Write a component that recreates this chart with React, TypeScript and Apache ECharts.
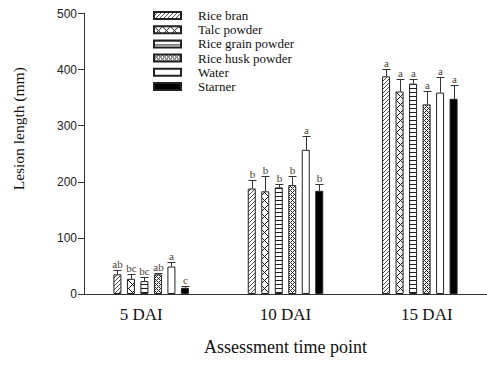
import React, { useEffect, useRef } from 'react';
import * as echarts from 'echarts';

// ---- data ----
const categories = ['5 DAI', '10 DAI', '15 DAI'];
const treatments = ['Rice bran', 'Talc powder', 'Rice grain powder', 'Rice husk powder', 'Water', 'Starner'];

const riceBran = [35, 188, 388];
const talcPowder = [27, 183, 361];
const riceGrainPowder = [23, 190, 375];
const riceHuskPowder = [35, 194, 338];
const water = [49, 257, 359];
const starner = [11, 184, 348];

const riceBranErr = [8, 16, 13];
const talcPowderErr = [8, 28, 22];
const riceGrainPowderErr = [7, 6, 8];
const riceHuskPowderErr = [2, 17, 23];
const waterErr = [8, 25, 28];
const starnerErr = [4, 12, 24];

const riceBranLetters = ['ab', 'b', 'a'];
const talcPowderLetters = ['bc', 'b', 'a'];
const riceGrainPowderLetters = ['bc', 'b', 'a'];
const riceHuskPowderLetters = ['ab', 'b', 'a'];
const waterLetters = ['a', 'a', 'a'];
const starnerLetters = ['c', 'b', 'a'];

const yTicks = [0, 100, 200, 300, 400, 500];

const means = [riceBran, talcPowder, riceGrainPowder, riceHuskPowder, water, starner];
const errs = [riceBranErr, talcPowderErr, riceGrainPowderErr, riceHuskPowderErr, waterErr, starnerErr];
const letters = [riceBranLetters, talcPowderLetters, riceGrainPowderLetters, riceHuskPowderLetters, waterLetters, starnerLetters];

const SERIF = "'Times New Roman', 'Liberation Serif', serif";
const SANS = "Arial, 'Liberation Sans', sans-serif";
const BAR_W = 8;
const BAR_GAP = 5.5;

function makeTile(w: number, h: number, fg: number[], test: (x: number, y: number) => boolean): HTMLCanvasElement {
  const c = document.createElement('canvas');
  c.width = w;
  c.height = h;
  const ctx = c.getContext('2d')!;
  const img = ctx.createImageData(w, h);
  for (let y = 0; y < h; y++) {
    for (let x = 0; x < w; x++) {
      const i = (y * w + x) * 4;
      const on = test(x, y);
      img.data[i] = on ? fg[0] : 255;
      img.data[i + 1] = on ? fg[1] : 255;
      img.data[i + 2] = on ? fg[2] : 255;
      img.data[i + 3] = 255;
    }
  }
  ctx.putImageData(img, 0, 0);
  return c;
}

export default function App() {
  const ref = useRef<HTMLDivElement>(null);

  useEffect(() => {
    if (!ref.current) return;
    const chart = echarts.init(ref.current, undefined, { renderer: 'svg' });

    const fills: any[] = [
      { image: makeTile(4, 4, [80, 80, 80], (x, y) => (x + y) % 4 === 3), repeat: 'repeat' },
      { image: makeTile(8, 8, [20, 20, 20], (x, y) => (x + y) % 8 === 0 || (x - y + 8) % 8 === 0), repeat: 'repeat' },
      { image: makeTile(4, 4, [30, 30, 30], (x, y) => y === 0), repeat: 'repeat' },
      { image: makeTile(4, 4, [40, 40, 40], (x, y) => (x + y) % 4 === 0 || (x - y + 4) % 4 === 0), repeat: 'repeat' },
      '#ffffff',
      '#000000',
    ];

    const barSeries = treatments.map((name, s) => ({
      name,
      type: 'bar',
      data: means[s],
      barWidth: BAR_W,
      barGap: (BAR_GAP / BAR_W) * 100 + '%',
      itemStyle: { color: fills[s], borderColor: '#222', borderWidth: 1 },
      z: 2,
    }));

    const errData: number[][] = [];
    treatments.forEach((_, s) => {
      categories.forEach((__, c) => {
        errData.push([c, s, means[s][c], means[s][c] + errs[s][c]]);
      });
    });

    const n = treatments.length;
    const step = BAR_W + BAR_GAP;

    const option: any = {
      animation: false,
      backgroundColor: '#ffffff',
      grid: { left: 84, top: 13.5, width: 405, height: 280.5, containLabel: false },
      legend: {
        data: treatments,
        orient: 'vertical',
        left: 148,
        top: 4,
        icon: 'rect',
        itemWidth: 27,
        itemHeight: 7,
        itemGap: 1.2,
        textStyle: { fontFamily: SERIF, fontSize: 13, color: '#111', padding: [0, 0, 0, 12] },
      },
      xAxis: {
        type: 'category',
        data: [
          { value: categories[0], textStyle: { padding: [0, 20, 0, 0] } },
          { value: categories[1] },
          { value: categories[2], textStyle: { padding: [0, 0, 0, 14] } },
        ],
        axisTick: { show: false },
        axisLine: { lineStyle: { color: '#333', width: 1 } },
        axisLabel: { fontFamily: SERIF, fontSize: 17, color: '#111', margin: 12 },
        name: 'Assessment time point',
        nameLocation: 'middle',
        nameGap: 44,
        nameTextStyle: { fontFamily: SERIF, fontSize: 18, color: '#111' },
      },
      yAxis: {
        type: 'value',
        min: yTicks[0],
        max: yTicks[yTicks.length - 1],
        interval: yTicks[1] - yTicks[0],
        axisLine: { show: true, lineStyle: { color: '#333', width: 1 } },
        axisTick: { show: true, inside: false, length: 6, lineStyle: { color: '#333' } },
        splitLine: { show: false },
        axisLabel: { fontFamily: SANS, fontSize: 12, color: '#222', margin: 7 },
        name: 'Lesion length (mm)',
        nameLocation: 'middle',
        nameGap: 58,
        nameTextStyle: { fontFamily: SERIF, fontSize: 15.5, color: '#111', padding: [0, 0, 0, 50] },
      },
      series: [
        ...barSeries,
        {
          type: 'custom',
          name: 'errors',
          data: errData,
          encode: { x: 0, y: 3 },
          z: 5,
          clip: false,
          renderItem: (params: any, api: any) => {
            const c = api.value(0) as number;
            const s = api.value(1) as number;
            const m = api.value(2) as number;
            const u = api.value(3) as number;
            const pm = api.coord([c, m]);
            const pu = api.coord([c, u]);
            const x = Math.round(pm[0] + (s - (n - 1) / 2) * step) + 0.5;
            const yu = Math.round(pu[1]) + 0.5;
            const ym = pm[1];
            return {
              type: 'group',
              children: [
                { type: 'line', shape: { x1: x, y1: ym, x2: x, y2: yu }, style: { stroke: '#333', lineWidth: 1 } },
                { type: 'line', shape: { x1: x - 4, y1: yu, x2: x + 4, y2: yu }, style: { stroke: '#333', lineWidth: 1 } },
                {
                  type: 'text',
                  x: x,
                  y: yu - 1,
                  style: {
                    text: letters[s][c],
                    align: 'center',
                    verticalAlign: 'bottom',
                    fontFamily: SERIF,
                    fontSize: 11,
                    fill: '#4a4036',
                  },
                },
              ],
            };
          },
        },
      ],
    };

    chart.setOption(option);
    return () => chart.dispose();
  }, []);

  return <div ref={ref} style={{ position: 'fixed', left: 0, top: 0, width: 487, height: 371 }} />;
}
